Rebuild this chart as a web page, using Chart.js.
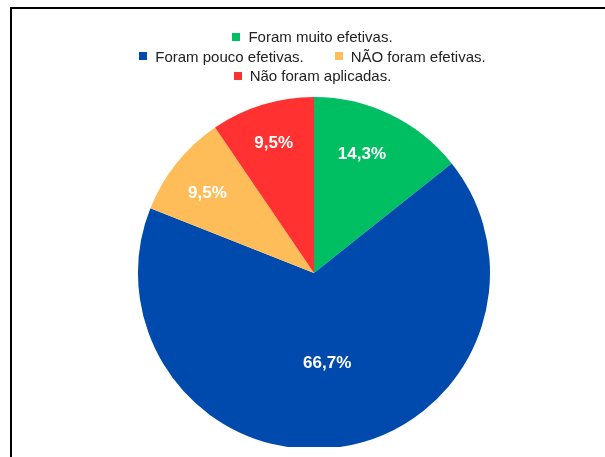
<!DOCTYPE html>
<html>
<head>
<meta charset="utf-8">
<script src="https://cdn.jsdelivr.net/npm/chart.js@4.4.1/dist/chart.umd.min.js"></script>
<style>
  html, body { margin: 0; padding: 0; background: #fff; }
  body { width: 605px; height: 457px; position: relative; overflow: hidden; font-family: "Liberation Sans", Arial, sans-serif; }
  #quadro { position: absolute; left: 0; top: 0; width: 605px; height: 447px; overflow: hidden; }
  #linhaTopo { position: absolute; left: 10px; top: 7px; width: 595px; height: 2px; background: #000; }
  #linhaEsq { position: absolute; left: 10px; top: 7px; width: 2px; height: 450px; background: #000; }
  #legenda { position: absolute; left: 10px; top: 27px; width: 605px; font-size: 15px; color: #222; }
  .linha { display: flex; justify-content: center; height: 19.5px; align-items: center; }
  .item { display: flex; align-items: center; margin: 0 15.5px; white-space: nowrap; }
  .caixa { width: 8px; height: 8px; margin-right: 8px; }
</style>
</head>
<body>
<div id="quadro"><canvas id="myChart" width="605" height="460"></canvas></div>
<div id="linhaTopo"></div>
<div id="linhaEsq"></div>
<div id="legenda"></div>
<script>
// categorias e valores (%)
var categorias = ['Foram muito efetivas.', 'Foram pouco efetivas.', 'NÃO foram efetivas.', 'Não foram aplicadas.'];
var valores = [14.3, 66.7, 9.5, 9.5];
var cores = ['#00bf63', '#004aad', '#ffbd59', '#ff3131'];
// itens da legenda por linha
var linhasLegenda = [[0], [1, 2], [3]];

// legenda montada a partir das categorias
var leg = document.getElementById('legenda');
linhasLegenda.forEach(function (linha) {
    var div = document.createElement('div');
    div.className = 'linha';
    linha.forEach(function (i) {
        var it = document.createElement('div');
        it.className = 'item';
        var cx = document.createElement('span');
        cx.className = 'caixa';
        cx.style.background = cores[i];
        it.appendChild(cx);
        it.appendChild(document.createTextNode(categorias[i]));
        div.appendChild(it);
    });
    leg.appendChild(div);
});

// rótulos de porcentagem dentro das fatias
var rotulos = {
    id: 'rotulos',
    afterDatasetsDraw: function (chart, args, opts) {
        var ctx = chart.ctx;
        var meta = chart.getDatasetMeta(0);
        ctx.save();
        ctx.font = 'bold 17px "Liberation Sans", Arial, sans-serif';
        ctx.fillStyle = '#fff';
        ctx.textAlign = 'center';
        ctx.textBaseline = 'alphabetic';
        meta.data.forEach(function (arc, i) {
            var p = arc.getProps(['x', 'y', 'startAngle', 'endAngle', 'outerRadius'], true);
            var meio = (p.startAngle + p.endAngle) / 2 + opts.desvio[i] * Math.PI / 180;
            var r = p.outerRadius * opts.raio[i];
            var txt = valores[i].toFixed(1).replace('.', ',') + '%';
            ctx.fillText(txt, p.x + Math.cos(meio) * r, p.y + Math.sin(meio) * r + 6);
        });
        ctx.restore();
    }
};

var ctx = document.getElementById('myChart');
window.myChart = new Chart(ctx, {
    type: 'pie',
    data: {
        labels: categorias,
        datasets: [{
            data: valores,
            backgroundColor: cores,
            borderWidth: 0
        }]
    },
    options: {
        responsive: false,
        animation: false,
        layout: { padding: { left: 138, right: 115, top: 97, bottom: 11 } },
        plugins: {
            legend: { display: false },
            tooltip: { enabled: false },
            rotulos: { raio: [0.735, 0.51, 0.76, 0.78], desvio: [-4, 0, -1.5, 0] }
        }
    },
    plugins: [rotulos]
});
</script>
</body>
</html>
